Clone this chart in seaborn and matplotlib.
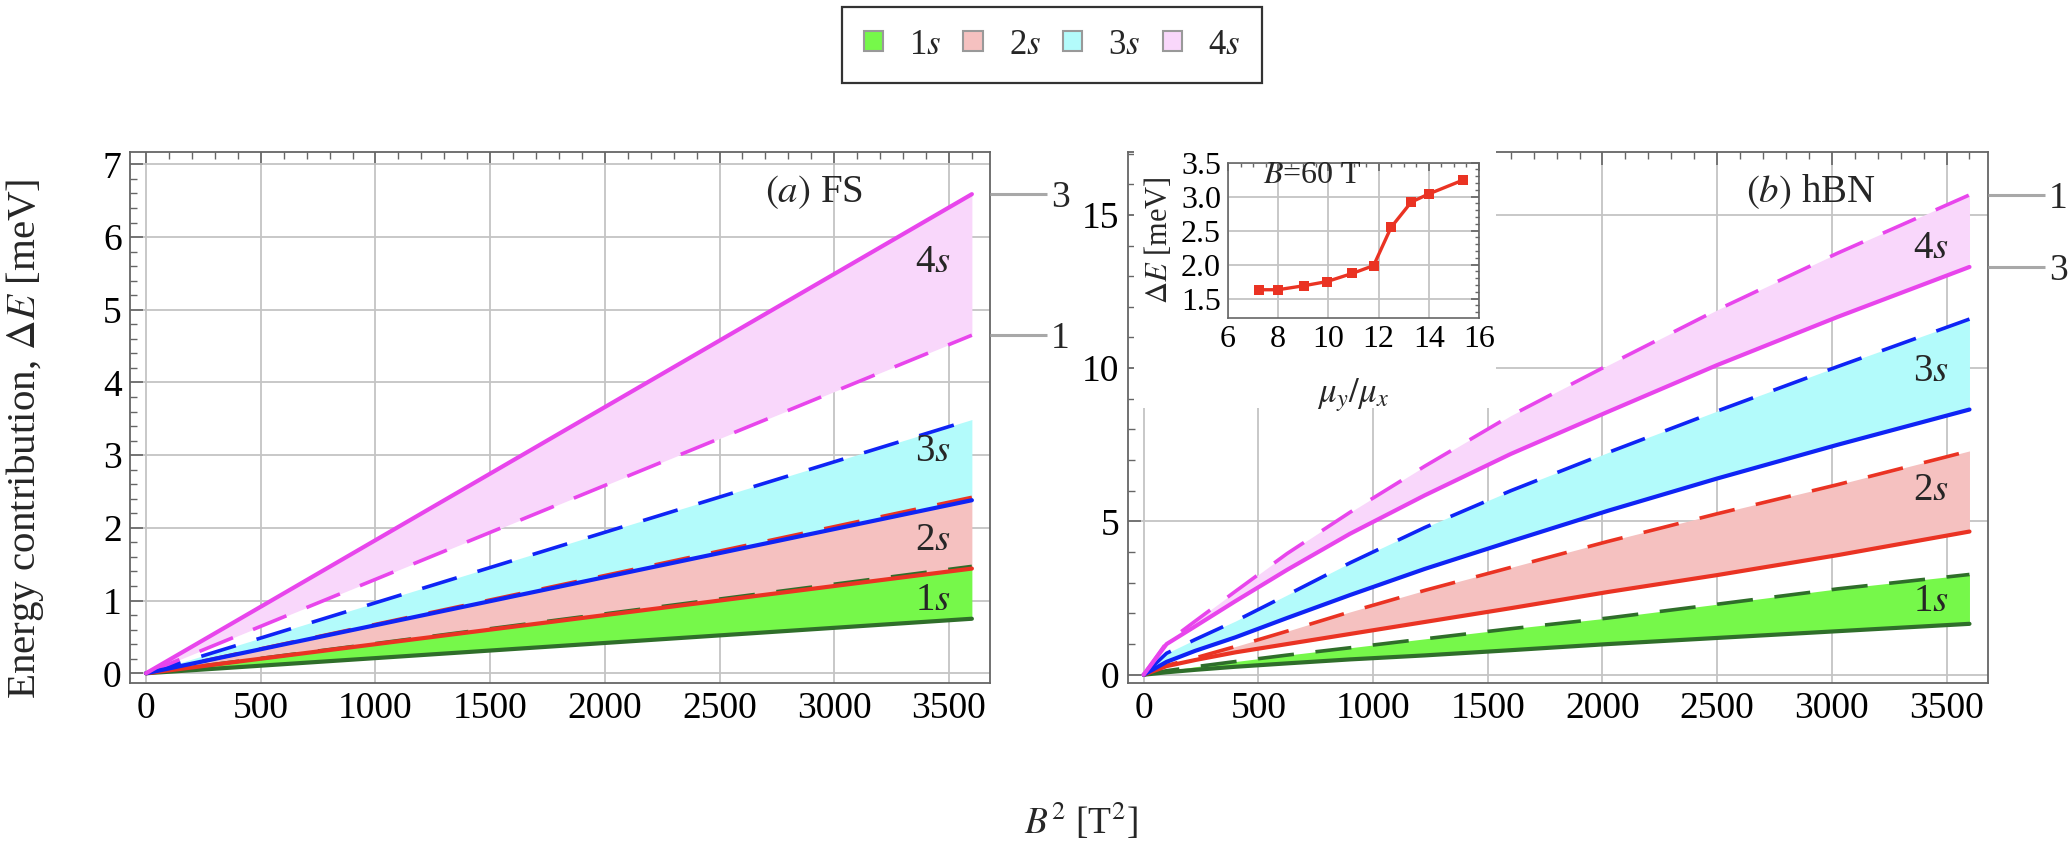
import numpy as np
import pandas as pd
import matplotlib
matplotlib.use("Agg")
import matplotlib.pyplot as plt
import seaborn as sns
from matplotlib.patches import Patch, Rectangle
from matplotlib.ticker import MultipleLocator

# ---------------- data ----------------
states = ["1s", "2s", "3s", "4s"]

# (a) FS : straight lines, B^2 in T^2 (solid: mu_y/mu_x = 3, dashed: mu_y/mu_x = 1)
B2_fs = [0, 3600]
fs_1s_r3 = [0.0, 0.75]
fs_1s_r1 = [0.0, 1.47]
fs_2s_r3 = [0.0, 1.44]
fs_2s_r1 = [0.0, 2.42]
fs_3s_r3 = [0.0, 2.38]
fs_3s_r1 = [0.0, 3.49]
fs_4s_r3 = [0.0, 6.59]
fs_4s_r1 = [0.0, 4.65]

# (b) hBN
B2_hbn = [0, 100, 225, 400, 625, 900, 1225, 1600, 2025, 2500, 3025, 3600]
hbn_1s_r3 = [0, 0.08, 0.16, 0.26, 0.37, 0.50, 0.63, 0.80, 1.00, 1.20, 1.42, 1.66]
hbn_1s_r1 = [0, 0.13, 0.26, 0.43, 0.64, 0.88, 1.17, 1.50, 1.85, 2.30, 2.80, 3.27]
hbn_2s_r3 = [0, 0.28, 0.48, 0.73, 1.00, 1.33, 1.72, 2.17, 2.70, 3.25, 3.90, 4.67]
hbn_2s_r1 = [0, 0.30, 0.55, 0.92, 1.42, 2.05, 2.75, 3.50, 4.35, 5.25, 6.20, 7.30]
hbn_3s_r3 = [0, 0.42, 0.78, 1.22, 1.85, 2.60, 3.45, 4.35, 5.35, 6.40, 7.50, 8.65]
hbn_3s_r1 = [0, 0.70, 1.15, 1.75, 2.60, 3.65, 4.80, 6.00, 7.25, 8.60, 10.05, 11.60]
hbn_4s_r3 = [0, 1.00, 1.58, 2.40, 3.42, 4.60, 5.85, 7.20, 8.58, 10.10, 11.67, 13.30]
hbn_4s_r1 = [0, 1.05, 1.75, 2.72, 3.95, 5.30, 6.80, 8.45, 10.10, 11.90, 13.75, 15.65]

# inset: Delta E at B = 60 T vs mu_y/mu_x
inset_ratio = [7.22, 7.99, 9.04, 9.94, 10.95, 11.8, 12.5, 13.3, 14.0, 15.37]
inset_dE = [1.63, 1.63, 1.69, 1.75, 1.87, 1.985, 2.55, 2.92, 3.04, 3.245]

# callout labels (mu_y/mu_x) at the curve ends
callout_fs_labels = ["3", "1"]
callout_hbn_labels = ["1", "3"]

# ---------------- style ----------------
sns.set_theme(style="white")
plt.rcParams["font.family"] = ["Liberation Serif", "DejaVu Serif"]
plt.rcParams["mathtext.fontset"] = "stix"

line_cols = {"1s": "#2f6e2a", "2s": "#ea3323", "3s": "#0f24f5", "4s": "#e845ec"}
fill_cols = {"1s": "#76f84a", "2s": "#f5c1c0", "3s": "#b3fbfb", "4s": "#f9d7fb"}
FRAME = "#666666"
GRID = "#c4c4c4"
TICK_FS = 27

W, H = 2070, 842
fig = plt.figure(figsize=(W / 100, H / 100), dpi=100)
axA = fig.add_axes([130 / W, 1 - 683 / H, 860 / W, 531 / H])
axB = fig.add_axes([1127.6 / W, 1 - 683 / H, 860 / W, 531 / H])


def style_axes(ax, ylim, ymaj, ymin):
    ax.set_xlim(-70, 3679)
    ax.set_ylim(*ylim)
    ax.xaxis.set_major_locator(MultipleLocator(500))
    ax.xaxis.set_minor_locator(MultipleLocator(100))
    ax.yaxis.set_major_locator(MultipleLocator(ymaj))
    ax.yaxis.set_minor_locator(MultipleLocator(ymin))
    ax.grid(True, which="major", color=GRID, lw=1.3, zorder=0)
    for sp in ax.spines.values():
        sp.set_color(FRAME)
        sp.set_linewidth(1.3)
    ax.tick_params(which="both", direction="in", top=True, right=True,
                   colors=FRAME, labelcolor="black", labelsize=TICK_FS, pad=6)
    ax.tick_params(which="major", length=9, width=1.2)
    ax.tick_params(which="minor", length=5, width=1.0)
    ax.set_axisbelow(True)


def draw_panel(ax, x, curves):
    for st, r3, r1 in curves:
        ax.fill_between(x, r3, r1, color=fill_cols[st], lw=0, zorder=1)
    for st, r3, r1 in curves:
        df = pd.DataFrame({"x": x, "r1": r1, "r3": r3})
        sns.lineplot(data=df, x="x", y="r1", ax=ax, color=line_cols[st], lw=2.6,
                     zorder=3)
        ax.lines[-1].set_dashes([10, 6])
        sns.lineplot(data=df, x="x", y="r3", ax=ax, color=line_cols[st], lw=3.0,
                     zorder=4)
    ax.set_xlabel("")
    ax.set_ylabel("")


curves_fs = [("1s", fs_1s_r3, fs_1s_r1), ("2s", fs_2s_r3, fs_2s_r1),
             ("3s", fs_3s_r3, fs_3s_r1), ("4s", fs_4s_r3, fs_4s_r1)]
curves_hbn = [("1s", hbn_1s_r3, hbn_1s_r1), ("2s", hbn_2s_r3, hbn_2s_r1),
              ("3s", hbn_3s_r3, hbn_3s_r1), ("4s", hbn_4s_r3, hbn_4s_r1)]

draw_panel(axA, B2_fs, curves_fs)
draw_panel(axB, B2_hbn, curves_hbn)
style_axes(axA, (-0.134, 7.17), 1, 0.2)
style_axes(axB, (-0.27, 17.05), 5, 1)

# in-panel labels
lab_fs = {"1s": 1.0, "2s": 1.82, "3s": 3.05, "4s": 5.65}
lab_hbn = {"1s": 2.38, "2s": 6.0, "3s": 9.9, "4s": 13.9}
for st in states:
    axA.text(3430, lab_fs[st], f"{st[0]}$s$", fontsize=28, ha="center", va="center", zorder=6)
    axB.text(3430, lab_hbn[st], f"{st[0]}$s$", fontsize=28, ha="center", va="center", zorder=6)
axA.text(2910, 6.62, r"$(a)$ FS", fontsize=28, ha="center", va="center", zorder=6)
axB.text(2906, 15.75, r"$(b)$ hBN", fontsize=28, ha="center", va="center", zorder=6)

# right-side callouts (mu_y/mu_x value of each 4s curve end)
for ax, vals, labs in [(axA, [fs_4s_r3[-1], fs_4s_r1[-1]], callout_fs_labels),
                       (axB, [hbn_4s_r1[-1], hbn_4s_r3[-1]], callout_hbn_labels)]:
    tw = ax.twinx()
    tw.set_ylim(ax.get_ylim())
    tw.set_yticks(vals)
    tw.set_yticklabels(labs)
    tw.tick_params(axis="y", direction="out", length=41, width=2.2, color="#a8a8a8",
                   labelsize=TICK_FS, pad=3)
    for sp in tw.spines.values():
        sp.set_visible(False)
    tw.grid(False)

# white box behind the inset
axB.add_patch(Rectangle((0.008, 0.517), 0.4205, 0.52, transform=axB.transAxes,
                        facecolor="white", edgecolor="none", zorder=5, clip_on=False))

# inset
axI = fig.add_axes([1228 / W, 0.622, 251 / W, 0.1848])
axI.set_zorder(10)
dfi = pd.DataFrame({"ratio": inset_ratio, "dE": inset_dE})
sns.lineplot(data=dfi, x="ratio", y="dE", ax=axI, color=line_cols["2s"], lw=2.4,
             marker="s", markersize=6.5, markeredgewidth=0)
axI.set_xlim(6, 16)
axI.set_ylim(1.21, 3.5)
axI.set_xticks([6, 8, 10, 12, 14, 16])
axI.set_yticks([1.5, 2.0, 2.5, 3.0, 3.5])
axI.set_yticklabels(["1.5", "2.0", "2.5", "3.0", "3.5"])
axI.xaxis.set_minor_locator(MultipleLocator(0.5))
axI.yaxis.set_minor_locator(MultipleLocator(0.1))
axI.grid(True, which="major", color=GRID, lw=1.3)
for sp in axI.spines.values():
    sp.set_color(FRAME)
    sp.set_linewidth(1.2)
axI.tick_params(which="both", direction="in", top=True, right=True, colors=FRAME,
                labelcolor="black", labelsize=23, pad=5)
axI.tick_params(which="major", length=6)
axI.tick_params(which="minor", length=3)
axI.set_xlabel(r"$\mu_y/\mu_x$", fontsize=25, labelpad=16)
axI.set_ylabel(r"$\Delta E$ [meV]", fontsize=22, labelpad=5)
axI.text(0.14, 0.915, r"$B$=60 T", transform=axI.transAxes, fontsize=23,
         ha="left", va="center")

# axis labels
fig.text(0.012, 0.4786, r"Energy contribution, $\Delta E$ [meV]", rotation=90,
         fontsize=29.5, ha="center", va="center")
fig.text(1081 / W, 1 - 821 / H, r"$B^2$ [T$^2$]", fontsize=27, ha="center", va="center")

# legend
handles = [Patch(facecolor=fill_cols[s], edgecolor="#999999", lw=1.5, label=f"{s[0]}$s$")
           for s in states]
leg = fig.legend(handles=handles, loc="center", bbox_to_anchor=(1052 / W, 1 - 45 / H),
                 ncol=4, fontsize=25, frameon=True, fancybox=False, handlelength=0.55,
                 handleheight=0.5, handletextpad=0.75, columnspacing=0.65,
                 borderpad=0.62, borderaxespad=0)
leg.get_frame().set_edgecolor("black")
leg.get_frame().set_linewidth(1.6)

fig.savefig("out.png", dpi=100)
